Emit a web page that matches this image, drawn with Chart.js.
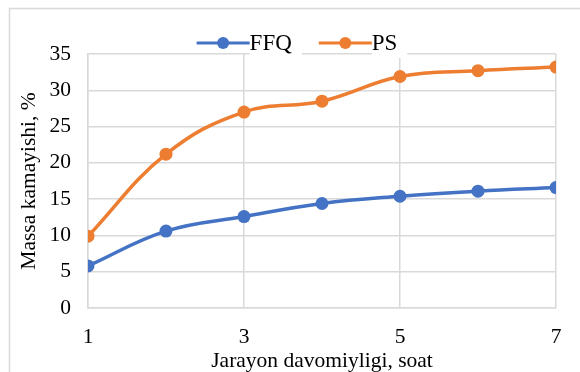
<!DOCTYPE html>
<html>
<head>
<meta charset="utf-8">
<script src="https://cdn.jsdelivr.net/npm/chart.js@4"></script>
<style>
  html, body { margin: 0; padding: 0; background: #fff; }
  #wrap { width: 580px; height: 372px; position: relative; }
</style>
</head>
<body>
<div id="wrap"><canvas id="chart"></canvas></div>
<script>
// data
const hours = [1, 2, 3, 4, 5, 6, 7];
const xTicks = [1, 3, 5, 7];
const ffq = [5.8, 10.6, 12.6, 14.4, 15.4, 16.1, 16.6];
const ps = [9.9, 21.2, 27.0, 28.5, 31.9, 32.7, 33.2];

const FONT = "'Liberation Serif', 'Times New Roman', serif";
const BLUE = '#4472C4';
const ORANGE = '#ED7D31';
const GRID = '#d9d9d9';

function toPoints(values) {
    return hours.map(function (h, i) { return { x: h, y: values[i] }; });
}

// outer frame of the chart object
const framePlugin = {
    id: 'frame',
    beforeDraw: function (chart) {
        const c = chart.ctx;
        c.save();
        c.fillStyle = '#fff';
        c.fillRect(0, 0, chart.width, chart.height);
        c.strokeStyle = GRID;
        c.lineWidth = 1.5;
        c.strokeRect(9.5, 8.5, chart.width + 20, chart.height + 20);
        c.restore();
    }
};

// Excel style legend: line + marker + label, sitting on the top gridline
const legendPlugin = {
    id: 'lineLegend',
    afterDraw: function (chart) {
        const c = chart.ctx;
        c.save();
        c.font = '23px ' + FONT;
        c.textBaseline = 'middle';
        const y = 43;
        const lineLen = 53;
        const gap = 27;
        const items = chart.data.datasets.map(function (ds) {
            return { label: ds.label, color: ds.borderColor, w: c.measureText(ds.label).width };
        });
        let total = 0;
        items.forEach(function (it, i) { total += lineLen + it.w + (i ? gap : 0); });
        let x = 297 - total / 2;
        items.forEach(function (it) {
            // white patch under text breaks the gridline
            c.fillStyle = '#fff';
            c.fillRect(x + lineLen, y - 13, it.w + 10, 28);
            c.strokeStyle = it.color;
            c.lineWidth = 3;
            c.beginPath();
            c.moveTo(x, y);
            c.lineTo(x + lineLen, y);
            c.stroke();
            c.fillStyle = it.color;
            c.beginPath();
            c.arc(x + lineLen / 2, y, 6, 0, Math.PI * 2);
            c.fill();
            c.fillStyle = '#000';
            c.fillText(it.label, x + lineLen, y + 1);
            x += lineLen + it.w + gap;
        });
        c.restore();
    }
};

const ctx = document.getElementById('chart');

new Chart(ctx, {
    type: 'line',
    data: {
        datasets: [{
            label: 'FFQ',
            data: toPoints(ffq),
            borderColor: BLUE,
            backgroundColor: BLUE,
            borderWidth: 3.5,
            pointRadius: 6.5,
            pointBorderWidth: 0,
            tension: 0.4
        }, {
            label: 'PS',
            data: toPoints(ps),
            borderColor: ORANGE,
            backgroundColor: ORANGE,
            borderWidth: 3.5,
            pointRadius: 6.5,
            pointBorderWidth: 0,
            tension: 0.4
        }]
    },
    options: {
        responsive: true,
        maintainAspectRatio: false,
        animation: false,
        layout: {
            padding: { top: 54, right: 24, bottom: 0, left: 0 }
        },
        scales: {
            x: {
                type: 'linear',
                min: 1,
                max: 7,
                afterBuildTicks: function (axis) {
                    axis.ticks = xTicks.map(function (v) { return { value: v }; });
                },
                afterFit: function (axis) { axis.height = 64; },
                grid: { color: GRID, lineWidth: 1.5, drawTicks: false },
                border: { color: GRID, width: 1.5 },
                ticks: {
                    color: '#000',
                    padding: 16,
                    font: { family: FONT, size: 21.5 }
                },
                title: {
                    display: true,
                    text: 'Jarayon davomiyligi, soat',
                    color: '#000',
                    padding: { top: 0, bottom: -2 },
                    font: { family: FONT, size: 21.5 }
                }
            },
            y: {
                min: 0,
                max: 35,
                afterFit: function (axis) { axis.width = 88; },
                grid: { color: GRID, lineWidth: 1.5, drawTicks: false },
                border: { color: GRID, width: 1.5 },
                ticks: {
                    stepSize: 5,
                    color: '#000',
                    padding: 17,
                    font: { family: FONT, size: 21.5 }
                },
                title: {
                    display: true,
                    text: 'Massa kamayishi, %',
                    color: '#000',
                    padding: { top: 16, bottom: 0 },
                    font: { family: FONT, size: 21.5 }
                }
            }
        },
        plugins: {
            legend: { display: false },
            tooltip: { enabled: false }
        }
    },
    plugins: [framePlugin, legendPlugin]
});
</script>
</body>
</html>
